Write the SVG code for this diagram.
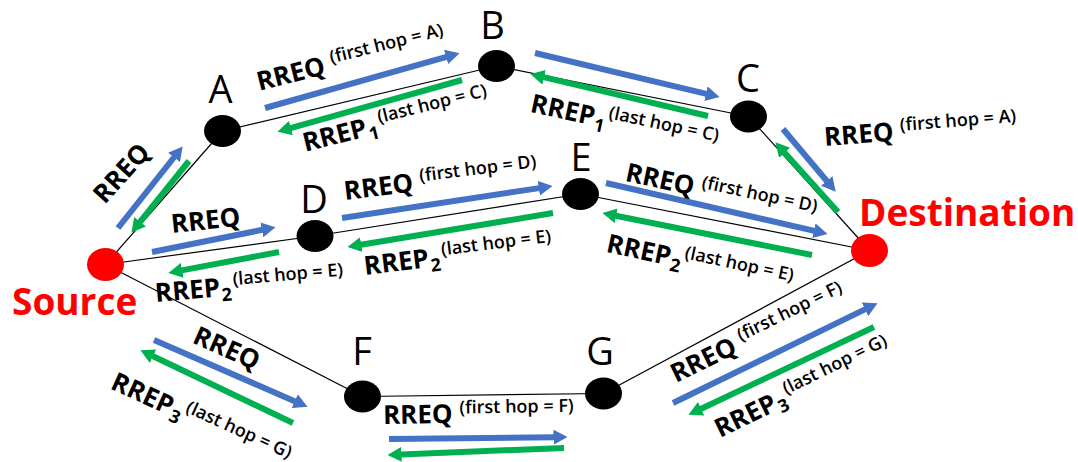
<svg xmlns="http://www.w3.org/2000/svg" width="1078" height="462" viewBox="0 0 1078 462">
  <defs>
    <style>
      .link { stroke: #000; stroke-width: 1.2; fill: none; }
      .req { stroke: #4472C4; stroke-width: 6; fill: none; marker-end: url(#headBlue); }
      .rep { stroke: #00B050; stroke-width: 6; fill: none; marker-end: url(#headGreen); }
      .node { fill: #000; }
      .end { fill: #FF0000; }
      .name { font-family: "Open Sans", "Liberation Sans", sans-serif; font-size: 38px; fill: #000; text-anchor: middle; }
      .title { font-family: "Open Sans", "Liberation Sans", sans-serif; font-size: 37px; font-weight: 700; fill: #FF0000; }
      .lb { font-family: "Open Sans", "Liberation Sans", sans-serif; font-size: 26px; font-weight: 700; fill: #000; }
      .sup { font-size: 18px; font-weight: 600; }
      .sub { font-size: 18px; font-weight: 700; }
    </style>
    <marker id="headBlue" markerUnits="userSpaceOnUse" markerWidth="14" markerHeight="15" viewBox="0 0 14 15" refX="0.5" refY="7.5" orient="auto">
      <path d="M0,0 L14,7.5 L0,15 z" fill="#4472C4"/>
    </marker>
    <marker id="headGreen" markerUnits="userSpaceOnUse" markerWidth="14" markerHeight="15" viewBox="0 0 14 15" refX="0.5" refY="7.5" orient="auto">
      <path d="M0,0 L14,7.5 L0,15 z" fill="#00B050"/>
    </marker>
  </defs>

  <rect width="1078" height="462" fill="#fff"/>

  <!-- links between nodes -->
  <g id="links">
    <line class="link" x1="105.5" y1="264.5" x2="222.5" y2="131"/>
    <line class="link" x1="222.5" y1="131" x2="496.5" y2="66"/>
    <line class="link" x1="496.5" y1="66" x2="748.5" y2="116.5"/>
    <line class="link" x1="748.5" y1="116.5" x2="869.5" y2="250.5"/>
    <line class="link" x1="105.5" y1="264.5" x2="315" y2="236"/>
    <line class="link" x1="315" y1="236" x2="580.5" y2="194"/>
    <line class="link" x1="580.5" y1="194" x2="869.5" y2="250.5"/>
    <line class="link" x1="105.5" y1="264.5" x2="362.5" y2="396.5"/>
    <line class="link" x1="362.5" y1="396.5" x2="603.5" y2="393.5"/>
    <line class="link" x1="603.5" y1="393.5" x2="869.5" y2="250.5"/>
  </g>

  <!-- request (blue) and reply (green) message arrows -->
  <g id="connectors">
    <line class="req" x1="118" y1="228" x2="174.3" y2="157"/>
    <line class="rep" x1="189" y1="161" x2="139.8" y2="222.1"/>
    <line class="req" x1="265" y1="108" x2="446.5" y2="56.8"/>
    <line class="rep" x1="462" y1="80" x2="290.5" y2="128.2"/>
    <line class="req" x1="535" y1="53" x2="706.4" y2="93.8"/>
    <line class="rep" x1="708" y1="116" x2="543.6" y2="77.2"/>
    <line class="req" x1="783" y1="129" x2="827" y2="181.3"/>
    <line class="rep" x1="838" y1="212" x2="784.4" y2="152.4"/>
    <line class="req" x1="152" y1="252" x2="262.3" y2="229.8"/>
    <line class="rep" x1="279" y1="252" x2="181.7" y2="270.4"/>
    <line class="req" x1="342" y1="218" x2="539.2" y2="188.1"/>
    <line class="rep" x1="553" y1="213" x2="360.8" y2="244.7"/>
    <line class="req" x1="606" y1="183" x2="814.4" y2="230.9"/>
    <line class="rep" x1="812" y1="255" x2="615.7" y2="215.7"/>
    <line class="req" x1="154" y1="340" x2="295.2" y2="401.4"/>
    <line class="rep" x1="293" y1="423" x2="152.6" y2="356"/>
    <line class="req" x1="389" y1="439" x2="554" y2="437.2"/>
    <line class="rep" x1="564" y1="448" x2="401" y2="454.4"/>
    <line class="req" x1="673" y1="403" x2="865.4" y2="309.1"/>
    <line class="rep" x1="874" y1="327" x2="700.7" y2="409"/>
  </g>

  <!-- nodes -->
  <g id="source">
    <ellipse class="end" cx="105.5" cy="264.5" rx="18.5" ry="16.5"/>
    <text class="title" x="12" y="315">Source</text>
  </g>
  <g id="destination">
    <ellipse class="end" cx="869.5" cy="250.5" rx="18.5" ry="16.5"/>
    <text class="title" x="859" y="226">Destination</text>
  </g>
  <g id="node-a">
    <ellipse class="node" cx="222.5" cy="131" rx="18.5" ry="16"/>
    <text class="name" x="220.5" y="103">A</text>
  </g>
  <g id="node-b">
    <ellipse class="node" cx="496.5" cy="66" rx="18.5" ry="16"/>
    <text class="name" x="492.5" y="39">B</text>
  </g>
  <g id="node-c">
    <ellipse class="node" cx="748.5" cy="116.5" rx="18.5" ry="16"/>
    <text class="name" x="748" y="92">C</text>
  </g>
  <g id="node-d">
    <ellipse class="node" cx="315" cy="236" rx="18.5" ry="16"/>
    <text class="name" x="314" y="213">D</text>
  </g>
  <g id="node-e">
    <ellipse class="node" cx="580.5" cy="194" rx="18.5" ry="16"/>
    <text class="name" x="581" y="171">E</text>
  </g>
  <g id="node-f">
    <ellipse class="node" cx="362.5" cy="396.5" rx="18.5" ry="16"/>
    <text class="name" x="362" y="365">F</text>
  </g>
  <g id="node-g">
    <ellipse class="node" cx="603.5" cy="393.5" rx="18.5" ry="16"/>
    <text class="name" x="600" y="365">G</text>
  </g>

  <!-- message labels -->
  <g id="labels">
    <g transform="translate(98,199) rotate(-48)"><text class="lb" y="9">RREQ</text></g>
    <g transform="translate(257,82) rotate(-14)"><text class="lb" y="9">RREQ<tspan class="sup" dx="7" dy="-9">(first hop = A)</tspan></text></g>
    <g transform="translate(303,143) rotate(-14)"><text class="lb" y="9">RREP<tspan class="sub" dx="1" dy="5">1</tspan><tspan class="sup" dx="2" dy="-15">(last hop = C)</tspan></text></g>
    <g transform="translate(531,103) rotate(12)"><text class="lb" y="9">RREP<tspan class="sub" dx="1" dy="5">1</tspan><tspan class="sup" dx="2" dy="-15">(last hop = C)</tspan></text></g>
    <g transform="translate(824,137) rotate(-4.5)"><text class="lb" y="9">RREQ<tspan class="sup" dx="7" dy="-9">(first hop = A)</tspan></text></g>
    <g transform="translate(171,224) rotate(-6)"><text class="lb" y="9">RREQ</text></g>
    <g transform="translate(155,293) rotate(-5)"><text class="lb" y="9">RREP<tspan class="sub" dx="1" dy="5">2</tspan><tspan class="sup" dx="2" dy="-15">(last hop = E)</tspan></text></g>
    <g transform="translate(344,191) rotate(-7)"><text class="lb" y="9">RREQ<tspan class="sup" dx="7" dy="-9">(first hop = D)</tspan></text></g>
    <g transform="translate(364,266) rotate(-7)"><text class="lb" y="9">RREP<tspan class="sub" dx="1" dy="5">2</tspan><tspan class="sup" dx="2" dy="-15">(last hop = E)</tspan></text></g>
    <g transform="translate(626,172) rotate(12)"><text class="lb" y="9">RREQ<tspan class="sup" dx="7" dy="-9">(first hop = D)</tspan></text></g>
    <g transform="translate(607,243) rotate(12)"><text class="lb" y="9">RREP<tspan class="sub" dx="1" dy="5">2</tspan><tspan class="sup" dx="2" dy="-15">(last hop = E)</tspan></text></g>
    <g transform="translate(195,334) rotate(24)"><text class="lb" y="9">RREQ</text></g>
    <g transform="translate(113,380) rotate(24.5)"><text class="lb" y="9">RREP<tspan class="sub" dx="1" dy="5">3</tspan><tspan class="sup" dx="2" dy="-15">(last hop = G)</tspan></text></g>
    <g transform="translate(383,415) rotate(-1)"><text class="lb" y="9">RREQ<tspan class="sup" dx="7" dy="-9">(first hop = F)</tspan></text></g>
    <g transform="translate(672,375) rotate(-26)"><text class="lb" y="9">RREQ<tspan class="sup" dx="7" dy="-9">(first hop = F)</tspan></text></g>
    <g transform="translate(716,430) rotate(-26)"><text class="lb" y="9">RREP<tspan class="sub" dx="1" dy="5">3</tspan><tspan class="sup" dx="2" dy="-15">(last hop = G)</tspan></text></g>
  </g>
</svg>
